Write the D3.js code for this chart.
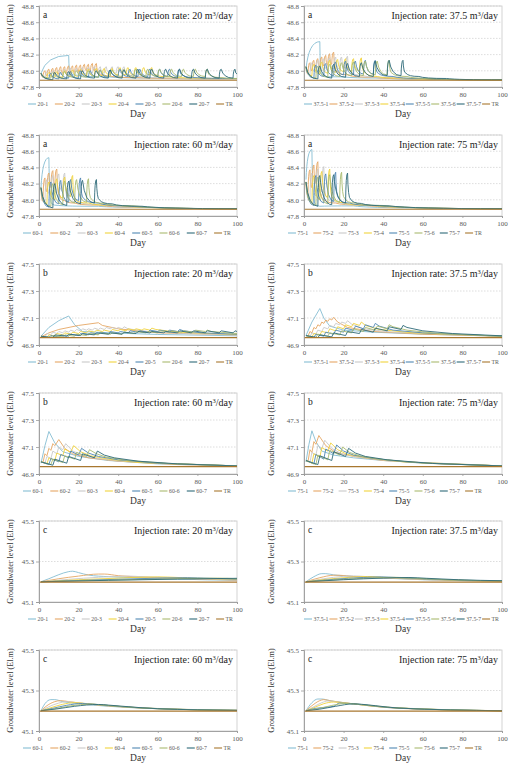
<!DOCTYPE html>
<html><head><meta charset="utf-8">
<script src="https://cdn.jsdelivr.net/npm/d3@7"></script>
<style>body{margin:0;background:#fff}svg{display:block}
svg text{font-family:"Liberation Serif","Times New Roman","DejaVu Serif",serif !important;}</style>
</head><body><svg id="c" width="515" height="770"></svg>
<script>
// ---------- data ----------
const rates = ["20","37.5","60","75"];
const seriesSuffix = ["-1","-2","-3","-4","-5","-6","-7"];
const trLabel = "TR";
const colors = ["#86bdd3","#e5a764","#c9c9c9","#f0d33c","#4f87b3","#a9bb6f","#2f6b79","#a8772f"];
const xTicks = [0,20,40,60,80,100];
const yTicksA = [47.8,48.0,48.2,48.4,48.6,48.8];
const yTicksB = [46.9,47.1,47.3,47.5];
const yTicksC = [45.1,45.3,45.5];
const trDays = [0,100];
const trA = 47.884, trB = 46.955, trC = 45.198;

const a20 = [
 [[1,47.97],[15,48.19],[15.8,47.97],[20,47.945],[35,47.925],[60,47.91],[100,47.9]],
 [[1,47.97],[2,47.92],[3,48.0],[4,47.94],[5,48.02],[6,47.95],[7,48.03],[8,47.96],[9,48.04],[10,47.96],[11,48.05],[12,47.97],[13,48.05],[14,47.97],[15,48.06],[16,47.98],[17,48.06],[18,47.98],[19,48.07],[20,47.99],[21,48.07],[22,47.99],[23,48.08],[24,48.0],[25,48.08],[26,48.0],[27,48.09],[28,48.0],[29,48.09],[30.5,47.97],[36,47.935],[50,47.915],[100,47.9]],
 [[1,47.97],[3,47.92],[4,47.99],[6,47.93],[7,48.0],[9,47.94],[10,48.01],[12,47.95],[13,48.02],[15,47.95],[16,48.03],[18,47.96],[19,48.03],[21,47.96],[22,48.04],[24,47.96],[25,48.04],[27,47.97],[28,48.05],[30,47.97],[31,48.05],[33,47.97],[34,48.05],[36,47.97],[37,48.05],[39,47.97],[40,48.05],[42,47.97],[43,48.05],[45,47.96],[52,47.93],[70,47.91],[100,47.9]],
 [[1,47.97],[4,47.91],[5,47.98],[8,47.92],[9,47.99],[12,47.92],[13,48.0],[16,47.93],[17,48.01],[20,47.93],[21,48.02],[24,47.94],[25,48.02],[28,47.94],[29,48.03],[32,47.94],[33,48.03],[36,47.95],[37,48.03],[40,47.95],[41,48.04],[44,47.95],[45,48.04],[48,47.95],[49,48.04],[52,47.95],[53,48.04],[56,47.95],[57,48.04],[59,47.95],[66,47.925],[100,47.905]],
 [[1,47.97],[5,47.9],[6,47.97],[10,47.9],[11,47.98],[15,47.91],[16,47.99],[20,47.91],[21,48.0],[25,47.92],[26,48.0],[30,47.92],[31,48.01],[35,47.92],[36,48.01],[40,47.93],[41,48.02],[45,47.93],[46,48.02],[50,47.93],[51,48.02],[55,47.93],[56,48.02],[60,47.93],[61,48.02],[65,47.93],[66,48.02],[70,47.93],[71,48.02],[73,47.94],[80,47.915],[100,47.905]],
 [[1,47.97],[6,47.91],[7,47.98],[12,47.91],[13,47.99],[18,47.92],[19,48.0],[24,47.92],[25,48.0],[30,47.92],[31,48.01],[36,47.93],[37,48.01],[42,47.93],[43,48.02],[48,47.93],[49,48.02],[54,47.93],[55,48.02],[60,47.93],[61,48.02],[66,47.93],[67,48.02],[72,47.93],[73,48.02],[78,47.93],[79,48.02],[84,47.93],[85,48.02],[87,47.94],[93,47.915],[100,47.905]],
 [[1,47.97],[7,47.89],[8,47.98],[14,47.9],[15,47.99],[21,47.9],[22,48.0],[28,47.91],[29,48.0],[35,47.91],[36,48.01],[42,47.91],[43,48.01],[49,47.91],[50,48.02],[56,47.91],[57,48.02],[63,47.91],[64,48.02],[70,47.91],[71,48.02],[77,47.91],[78,48.02],[84,47.91],[85,48.02],[91,47.91],[92,48.02],[98,47.91],[99,48.02],[100,47.96]]
];
const a37 = [
 [[1,48.02],[8,48.36],[8.8,47.97],[11,47.93],[20,47.925],[40,47.91],[70,47.895],[100,47.888]],
 [[1,48.05],[2,47.96],[3,48.1],[4,48.0],[5,48.13],[6,48.03],[7,48.15],[8,48.05],[9,48.17],[10,48.06],[11,48.19],[12,48.07],[13,48.21],[14,48.08],[15,48.23],[16.5,48.0],[22,47.95],[35,47.92],[60,47.9],[100,47.888]],
 [[1,48.05],[3,47.95],[4,48.1],[6,47.98],[7,48.13],[9,48.0],[10,48.15],[12,48.01],[13,48.16],[15,48.02],[16,48.17],[18,48.02],[19,48.17],[21,48.03],[22,48.18],[23.5,48.0],[30,47.94],[45,47.915],[100,47.888]],
 [[1,48.05],[4,47.94],[5,48.08],[8,47.96],[9,48.11],[12,47.97],[13,48.13],[16,47.98],[17,48.14],[20,47.99],[21,48.15],[24,47.99],[25,48.15],[28,48.0],[29,48.16],[30.5,47.99],[37,47.93],[50,47.91],[100,47.888]],
 [[1,48.05],[5,47.91],[6,48.07],[10,47.93],[11,48.09],[15,47.94],[16,48.11],[20,47.95],[21,48.12],[25,47.95],[26,48.12],[30,47.96],[31,48.13],[35,47.96],[36,48.13],[37.5,47.97],[45,47.93],[60,47.905],[100,47.888]],
 [[1,48.05],[6,47.91],[7,48.06],[12,47.92],[13,48.08],[18,47.93],[19,48.1],[24,47.94],[25,48.11],[30,47.94],[31,48.12],[36,47.95],[37,48.12],[42,47.95],[43,48.13],[44.5,47.97],[52,47.93],[65,47.905],[100,47.888]],
 [[1,48.05],[7,47.9],[8,48.06],[14,47.91],[15,48.08],[21,47.92],[22,48.09],[28,47.93],[29,48.1],[35,47.93],[36,48.12],[42,47.94],[43,48.13],[49,47.94],[50,48.13],[51.5,47.97],[58,47.93],[72,47.905],[100,47.888]]
];
const a60 = [
 [[1,48.15],[5,48.52],[6.5,47.95],[10,47.93],[30,47.92],[60,47.905],[100,47.89]],
 [[1,48.15],[2,47.98],[3,48.27],[4,48.1],[5,48.33],[6,48.15],[7,48.36],[8,48.18],[9,48.38],[10.5,48.05],[13,47.99],[18,47.96],[30,47.935],[60,47.905],[100,47.89]],
 [[1,48.15],[3,47.97],[4,48.25],[6,48.05],[7,48.3],[9,48.08],[10,48.32],[12,48.1],[13,48.33],[14.5,48.03],[20,47.97],[35,47.935],[60,47.905],[100,47.89]],
 [[1,48.15],[4,47.95],[5,48.22],[8,48.0],[9,48.26],[12,48.02],[13,48.28],[16,48.04],[17,48.3],[18.5,48.0],[25,47.96],[40,47.93],[100,47.89]],
 [[1,48.15],[5,47.91],[6,48.22],[10,47.95],[11,48.24],[15,47.97],[16,48.25],[20,47.99],[21,48.27],[22.5,48.02],[30,47.96],[45,47.925],[100,47.89]],
 [[1,48.15],[6,47.92],[7,48.2],[12,47.94],[13,48.23],[18,47.96],[19,48.25],[24,47.97],[25,48.26],[26.5,48.01],[33,47.955],[48,47.925],[100,47.89]],
 [[1,48.15],[7,47.9],[8,48.2],[14,47.93],[15,48.23],[21,47.95],[22,48.24],[28,47.96],[29,48.25],[30.5,48.0],[37,47.95],[52,47.92],[100,47.89]]
];
const a75 = [
 [[1,48.25],[4,48.62],[5.5,47.96],[8,47.92],[25,47.925],[60,47.9],[100,47.89]],
 [[1,48.22],[2,48.05],[3,48.37],[4,48.15],[5,48.43],[6,48.2],[7,48.47],[8.5,48.08],[11,47.99],[16,47.96],[30,47.935],[60,47.905],[100,47.89]],
 [[1,48.22],[3,47.98],[4,48.33],[6,48.05],[7,48.38],[9,48.1],[10,48.41],[11.5,48.03],[17,47.97],[32,47.935],[100,47.89]],
 [[1,48.22],[4,47.96],[5,48.3],[8,48.0],[9,48.35],[12,48.03],[13,48.38],[14.5,48.02],[20,47.965],[35,47.93],[100,47.89]],
 [[1,48.22],[5,47.93],[6,48.3],[10,47.96],[11,48.32],[15,47.98],[16,48.34],[17.5,48.02],[23,47.96],[38,47.93],[100,47.89]],
 [[1,48.22],[6,47.93],[7,48.28],[12,47.95],[13,48.31],[18,47.97],[19,48.34],[20.5,48.02],[26,47.96],[40,47.93],[100,47.89]],
 [[1,48.22],[7,47.92],[8,48.3],[14,47.94],[15,48.31],[21,47.96],[22,48.33],[23.5,48.01],[29,47.955],[43,47.925],[100,47.89]]
];
const b20 = [
 [[1,46.965],[5,47.03],[10,47.08],[15,47.115],[18,47.05],[22,47.0],[35,46.99],[60,46.978],[100,46.968]],
 [[1,46.96],[5,46.99],[10,47.015],[20,47.045],[30,47.065],[32,47.045],[40,47.02],[60,46.99],[100,46.975]],
 [[1,46.965],[3,46.96],[4,46.985],[6,46.975],[7,46.995],[9,46.985],[10,47.0],[12,46.99],[13,47.005],[15,46.995],[16,47.01],[18,47.0],[19,47.015],[21,47.005],[22,47.02],[24,47.01],[25,47.02],[27,47.01],[28,47.025],[30,47.015],[31,47.025],[33,47.015],[34,47.03],[36,47.02],[37,47.03],[39,47.02],[40,47.03],[42,47.02],[43,47.035],[45,47.02],[55,47.0],[75,46.985],[100,46.975]],
 [[1,46.965],[4,46.955],[5,46.975],[8,46.965],[9,46.985],[12,46.975],[13,46.99],[16,46.98],[17,46.995],[20,46.985],[21,47.0],[24,46.99],[25,47.005],[28,46.995],[29,47.01],[32,47.0],[33,47.01],[36,47.0],[37,47.015],[40,47.005],[41,47.015],[44,47.005],[45,47.02],[48,47.01],[49,47.02],[52,47.01],[53,47.02],[56,47.01],[57,47.025],[59,47.015],[70,46.995],[100,46.978]],
 [[1,46.965],[5,46.955],[6,46.97],[10,46.96],[11,46.975],[15,46.965],[16,46.98],[20,46.97],[21,46.985],[25,46.975],[26,46.99],[30,46.98],[31,46.995],[35,46.985],[36,47.0],[40,46.99],[41,47.0],[45,46.99],[46,47.005],[50,46.995],[51,47.005],[55,46.995],[56,47.01],[60,47.0],[61,47.01],[65,47.0],[66,47.01],[70,47.0],[71,47.015],[73,47.005],[82,46.99],[100,46.98]],
 [[1,46.965],[6,46.955],[7,46.97],[12,46.96],[13,46.975],[18,46.965],[19,46.98],[24,46.97],[25,46.985],[30,46.975],[31,46.99],[36,46.98],[37,46.99],[42,46.98],[43,46.995],[48,46.985],[49,47.0],[54,46.99],[55,47.0],[60,46.99],[61,47.005],[66,46.995],[67,47.005],[72,46.995],[73,47.005],[78,46.995],[79,47.01],[84,47.0],[85,47.01],[87,47.0],[100,46.985]],
 [[1,46.965],[7,46.955],[8,46.975],[14,46.965],[15,46.98],[21,46.97],[22,46.985],[28,46.975],[29,46.99],[35,46.98],[36,46.99],[42,46.98],[43,46.995],[49,46.985],[50,47.0],[56,46.99],[57,47.0],[63,46.99],[64,47.0],[70,46.99],[71,47.005],[77,46.99],[78,47.005],[84,46.99],[85,47.005],[91,46.99],[92,47.005],[98,46.99],[99,47.005],[100,47.0]]
];
const b37 = [
 [[1,46.97],[4,47.07],[8,47.17],[10,47.1],[13,47.04],[20,47.01],[35,46.995],[60,46.98],[100,46.965]],
 [[1,46.97],[2,46.965],[3,47.0],[4,46.99],[5,47.03],[6,47.02],[7,47.05],[8,47.04],[9,47.07],[10,47.06],[11,47.085],[12,47.075],[13,47.095],[14,47.085],[15,47.105],[17,47.07],[22,47.03],[35,47.0],[60,46.98],[100,46.965]],
 [[1,46.97],[3,46.96],[4,46.99],[6,46.98],[7,47.01],[9,47.0],[10,47.03],[12,47.02],[13,47.045],[15,47.035],[16,47.06],[18,47.05],[19,47.07],[21,47.06],[22,47.08],[24,47.055],[30,47.02],[45,46.995],[100,46.965]],
 [[1,46.97],[4,46.96],[5,46.985],[8,46.975],[9,47.0],[12,46.99],[13,47.02],[16,47.005],[17,47.035],[20,47.02],[21,47.05],[24,47.035],[25,47.06],[28,47.045],[29,47.07],[31,47.045],[38,47.015],[55,46.99],[100,46.965]],
 [[1,46.97],[5,46.955],[6,46.98],[10,46.965],[11,46.995],[15,46.98],[16,47.01],[20,46.995],[21,47.025],[25,47.01],[26,47.04],[30,47.02],[31,47.05],[35,47.03],[36,47.06],[38,47.04],[45,47.01],[60,46.99],[100,46.965]],
 [[1,46.97],[6,46.955],[7,46.98],[12,46.965],[13,46.99],[18,46.975],[19,47.005],[24,46.99],[25,47.02],[30,47.0],[31,47.03],[36,47.01],[37,47.04],[42,47.02],[43,47.05],[45,47.035],[52,47.01],[68,46.985],[100,46.965]],
 [[1,46.97],[7,46.955],[8,46.975],[14,46.96],[15,46.99],[21,46.97],[22,47.0],[28,46.985],[29,47.015],[35,46.995],[36,47.025],[42,47.005],[43,47.035],[49,47.015],[50,47.045],[52,47.03],[60,47.005],[75,46.985],[100,46.968]]
];
const b60 = [
 [[1,46.98],[3,47.11],[5,47.215],[8,47.13],[12,47.065],[20,47.03],[35,47.0],[60,46.975],[100,46.96]],
 [[1,46.995],[2,46.985],[3,47.05],[4,47.035],[5,47.09],[6,47.075],[7,47.125],[8,47.11],[10,47.155],[13,47.09],[17,47.05],[25,47.02],[40,46.995],[70,46.97],[100,46.96]],
 [[1,46.99],[3,46.98],[4,47.03],[6,47.015],[7,47.07],[9,47.05],[10,47.1],[12,47.08],[13.5,47.125],[17,47.07],[22,47.04],[30,47.015],[45,46.99],[100,46.96]],
 [[1,46.99],[4,46.975],[5,47.02],[8,47.0],[9,47.055],[12,47.035],[13,47.085],[16,47.06],[17.5,47.11],[21,47.065],[26,47.035],[35,47.01],[50,46.985],[100,46.96]],
 [[1,46.99],[5,46.97],[6,47.015],[10,46.99],[11,47.045],[15,47.02],[16,47.07],[20,47.04],[21.5,47.09],[25,47.055],[30,47.03],[40,47.005],[60,46.98],[100,46.96]],
 [[1,46.99],[6,46.97],[7,47.01],[12,46.985],[13,47.035],[18,47.01],[19,47.06],[24,47.03],[25.5,47.08],[29,47.05],[34,47.025],[45,47.0],[65,46.978],[100,46.96]],
 [[1,46.99],[7,46.965],[8,47.01],[14,46.98],[15,47.03],[21,47.0],[22,47.05],[28,47.02],[29.5,47.07],[33,47.04],[38,47.02],[50,46.995],[70,46.975],[100,46.96]]
];
const b75 = [
 [[1,46.99],[2.5,47.12],[4,47.22],[6,47.14],[9,47.07],[15,47.04],[25,47.02],[40,47.0],[70,46.975],[100,46.96]],
 [[1,47.0],[2,46.99],[3,47.08],[4,47.06],[5,47.14],[6,47.12],[7.5,47.185],[11,47.11],[16,47.06],[25,47.03],[40,47.0],[70,46.975],[100,46.96]],
 [[1,47.0],[3,46.985],[4,47.06],[6,47.04],[7,47.11],[9,47.09],[10.5,47.15],[14,47.09],[19,47.05],[28,47.025],[45,46.995],[100,46.96]],
 [[1,47.0],[4,46.98],[5,47.05],[8,47.025],[9,47.095],[12,47.07],[13.5,47.13],[17,47.08],[22,47.045],[32,47.02],[50,46.99],[100,46.96]],
 [[1,47.0],[5,46.975],[6,47.045],[10,47.01],[11,47.085],[15,47.05],[16.5,47.115],[20,47.07],[25,47.04],[35,47.015],[55,46.985],[100,46.96]],
 [[1,47.0],[6,46.97],[7,47.04],[12,47.005],[13,47.075],[18,47.04],[19.5,47.1],[23,47.06],[28,47.035],[38,47.01],[60,46.98],[100,46.96]],
 [[1,47.0],[7,46.97],[8,47.035],[14,47.0],[15,47.065],[21,47.03],[22.5,47.09],[26,47.055],[31,47.03],[42,47.005],[65,46.978],[100,46.96]]
];
const c20 = [
 [[1,45.2],[5,45.215],[10,45.235],[15,45.25],[17,45.252],[20,45.245],[25,45.233],[35,45.225],[50,45.22],[70,45.213],[100,45.207]],
 [[1,45.2],[10,45.215],[20,45.228],[30,45.238],[33,45.238],[40,45.23],[55,45.222],[75,45.215],[100,45.208]],
 [[1,45.2],[15,45.212],[30,45.222],[45,45.228],[50,45.226],[65,45.22],[100,45.21]],
 [[1,45.2],[20,45.21],[40,45.218],[60,45.224],[65,45.223],[80,45.217],[100,45.212]],
 [[1,45.2],[25,45.208],[50,45.215],[75,45.22],[80,45.219],[100,45.213]],
 [[1,45.2],[30,45.207],[60,45.213],[90,45.218],[100,45.215]],
 [[1,45.2],[35,45.207],[70,45.213],[100,45.217]]
];
const c37 = [
 [[1,45.2],[5,45.225],[9,45.24],[11,45.24],[15,45.234],[25,45.226],[40,45.218],[60,45.21],[100,45.203]],
 [[1,45.2],[8,45.22],[15,45.232],[18,45.232],[25,45.226],[40,45.219],[60,45.211],[100,45.203]],
 [[1,45.2],[10,45.215],[20,45.227],[25,45.229],[32,45.225],[45,45.218],[65,45.21],[100,45.203]],
 [[1,45.2],[12,45.213],[25,45.223],[32,45.226],[40,45.222],[55,45.216],[75,45.208],[100,45.203]],
 [[1,45.2],[15,45.212],[30,45.221],[39,45.224],[48,45.22],[62,45.213],[100,45.204]],
 [[1,45.2],[18,45.211],[35,45.219],[46,45.222],[55,45.218],[70,45.211],[100,45.204]],
 [[1,45.2],[20,45.21],[40,45.218],[53,45.221],[62,45.217],[78,45.21],[100,45.205]]
];
const c60 = [
 [[1,45.2],[3,45.235],[6,45.255],[8,45.255],[12,45.245],[20,45.235],[35,45.222],[60,45.21],[100,45.202]],
 [[1,45.2],[4,45.225],[8,45.245],[11,45.25],[15,45.245],[25,45.233],[40,45.22],[65,45.208],[100,45.202]],
 [[1,45.2],[5,45.22],[10,45.238],[14,45.245],[19,45.24],[28,45.232],[42,45.22],[100,45.202]],
 [[1,45.2],[6,45.215],[12,45.232],[18,45.24],[23,45.236],[32,45.228],[45,45.218],[100,45.202]],
 [[1,45.2],[7,45.212],[14,45.227],[22,45.236],[27,45.233],[36,45.225],[50,45.215],[100,45.202]],
 [[1,45.2],[8,45.21],[16,45.224],[26,45.233],[31,45.23],[40,45.222],[55,45.212],[100,45.202]],
 [[1,45.2],[9,45.209],[18,45.222],[30,45.231],[35,45.228],[45,45.22],[60,45.21],[100,45.202]]
];
const c75 = [
 [[1,45.2],[4,45.24],[7,45.258],[9,45.258],[13,45.25],[20,45.24],[30,45.228],[45,45.215],[70,45.205],[100,45.2]],
 [[1,45.2],[4,45.225],[8,45.25],[10,45.255],[14,45.248],[22,45.238],[35,45.222],[60,45.207],[100,45.2]],
 [[1,45.2],[5,45.22],[9,45.24],[12,45.248],[16,45.244],[24,45.235],[38,45.22],[100,45.2]],
 [[1,45.2],[5,45.215],[10,45.235],[15,45.243],[19,45.24],[27,45.232],[40,45.218],[100,45.2]],
 [[1,45.2],[6,45.212],[12,45.218],[15,45.222],[18,45.238],[22,45.236],[30,45.23],[42,45.216],[100,45.2]],
 [[1,45.2],[7,45.21],[14,45.226],[21,45.236],[25,45.234],[32,45.228],[45,45.215],[100,45.2]],
 [[1,45.2],[8,45.208],[16,45.222],[25,45.234],[29,45.232],[36,45.225],[48,45.213],[100,45.2]]
];

// ---------- layout ----------
const cols = [{x0:39,x1:237,ylab:10},{x0:304,x1:502,ylab:271}];
const rowTop = [6,135,264,393,521,650];
const PH = 81;
const legendSpan = {"20":[28,233],"37.5":[304,499],"60":[23,231],"75":[288,482]};
const levels = {
  a:{ticks:yTicksA, tr:trA, mode:"spike"},
  b:{ticks:yTicksB, tr:trB, mode:"linear"},
  c:{ticks:yTicksC, tr:trC, mode:"smooth"}
};
const panels = [
 {lvl:"a",rate:"20",data:a20,row:0,col:0},{lvl:"a",rate:"37.5",data:a37,row:0,col:1},
 {lvl:"a",rate:"60",data:a60,row:1,col:0},{lvl:"a",rate:"75",data:a75,row:1,col:1},
 {lvl:"b",rate:"20",data:b20,row:2,col:0},{lvl:"b",rate:"37.5",data:b37,row:2,col:1},
 {lvl:"b",rate:"60",data:b60,row:3,col:0},{lvl:"b",rate:"75",data:b75,row:3,col:1},
 {lvl:"c",rate:"20",data:c20,row:4,col:0},{lvl:"c",rate:"37.5",data:c37,row:4,col:1},
 {lvl:"c",rate:"60",data:c60,row:5,col:0},{lvl:"c",rate:"75",data:c75,row:5,col:1}
];

const FONT = "Liberation Serif";
const svg = d3.select("#c");

function pathD(pts, x, y, mode){
  if(mode === "spike"){
    let s = `M${x(pts[0][0])},${y(pts[0][1])}`;
    for(let i=1;i<pts.length;i++){
      const x0 = x(pts[i-1][0]), x1 = x(pts[i][0]), y1 = y(pts[i][1]);
      s += `Q${x0+0.2*(x1-x0)},${y1} ${x1},${y1}`;
    }
    return s;
  }
  return d3.line().x(p=>x(p[0])).y(p=>y(p[1]))
    .curve(mode==="smooth"?d3.curveMonotoneX:d3.curveLinear)(pts);
}

panels.forEach((p,pi)=>{
  const cfg = levels[p.lvl];
  const col = cols[p.col];
  const top = rowTop[p.row], bot = top + PH;
  const x = d3.scaleLinear().domain([0,100]).range([col.x0,col.x1]);
  const y = d3.scaleLinear().domain([cfg.ticks[0], cfg.ticks[cfg.ticks.length-1]]).range([bot,top]);
  const g = svg.append("g");

  g.selectAll(".grid").data(cfg.ticks.slice(1)).enter().append("line")
    .attr("x1",col.x0).attr("x2",col.x1).attr("y1",d=>y(d)).attr("y2",d=>y(d))
    .attr("stroke","#d4d4d4").attr("stroke-width",0.8).attr("stroke-dasharray","1.5,1.5");

  g.append("rect").attr("x",col.x0).attr("y",top).attr("width",col.x1-col.x0).attr("height",PH)
    .attr("fill","none").attr("stroke","#c8c8c8").attr("stroke-width",0.8);

  const cid = "clip"+pi;
  svg.append("clipPath").attr("id",cid).append("rect")
    .attr("x",col.x0).attr("y",top-1).attr("width",col.x1-col.x0+1).attr("height",PH+1);
  const lines = g.append("g").attr("clip-path",`url(#${cid})`);
  p.data.forEach((s,i)=>{
    lines.append("path").attr("d",pathD(s,x,y,cfg.mode)).attr("fill","none")
      .attr("stroke",colors[i]).attr("stroke-width",0.9).attr("stroke-linejoin","round");
  });
  lines.append("path").attr("d",d3.line().x(d=>x(d)).y(()=>y(cfg.tr))(trDays))
    .attr("fill","none").attr("stroke",colors[7]).attr("stroke-width",1.1);

  const ax = g.append("g").attr("transform",`translate(0,${bot})`)
    .call(d3.axisBottom(x).tickValues(xTicks).tickSize(2).tickPadding(3));
  const ay = g.append("g").attr("transform",`translate(${col.x0},0)`)
    .call(d3.axisLeft(y).tickValues(cfg.ticks).tickFormat(d3.format(".1f")).tickSize(3).tickPadding(2));
  [ax,ay].forEach(a=>{
    a.attr("font-family",FONT);
    a.select(".domain").attr("stroke","#9a9a9a").attr("stroke-width",0.9);
    a.selectAll(".tick line").attr("stroke","#9a9a9a").attr("stroke-width",0.8);
    a.selectAll("text").attr("font-size",7).attr("fill","#595959");
  });

  g.append("text").attr("x",col.x0+4).attr("y",top+12)
    .attr("font-size",9.5).attr("fill","#222").text(p.lvl);
  const t = g.append("text").attr("x",col.x1-4).attr("y",top+13).attr("text-anchor","end")
    .attr("font-size",10).attr("fill","#222");
  t.append("tspan").text(`Injection rate: ${p.rate} m`);
  t.append("tspan").attr("dy",-3.5).attr("font-size",6.5).text("3");
  t.append("tspan").attr("dy",3.5).text("/day");

  g.append("text").attr("transform",`translate(${col.ylab+3},${(top+bot)/2}) rotate(-90)`)
    .attr("text-anchor","middle").attr("font-size",8.2).attr("fill","#333")
    .text("Groundwater level (El.m)");
  g.append("text").attr("x",(col.x0+col.x1)/2).attr("y",bot+30).attr("text-anchor","middle")
    .attr("font-size",9.5).attr("fill","#333").text("Day");

  const labels = seriesSuffix.map(s=>p.rate+s).concat([trLabel]);
  const [L,R] = legendSpan[p.rate];
  const ly = bot + 17;
  const lg = g.append("g");
  const items = labels.map((lab,i)=>{
    const it = lg.append("g");
    it.append("line").attr("x1",0).attr("x2",8).attr("y1",0).attr("y2",0)
      .attr("stroke",colors[i]).attr("stroke-width",1.1);
    const tx = it.append("text").attr("x",9.5).attr("y",2.1)
      .attr("font-size",5.8).attr("fill","#595959").text(lab);
    return {it, w: 9.5 + tx.node().getComputedTextLength()};
  });
  const slot = (R - L - items[7].w)/7;
  items.forEach((o,i)=>o.it.attr("transform",`translate(${L+i*slot},${ly})`));
});
</script></body></html>
